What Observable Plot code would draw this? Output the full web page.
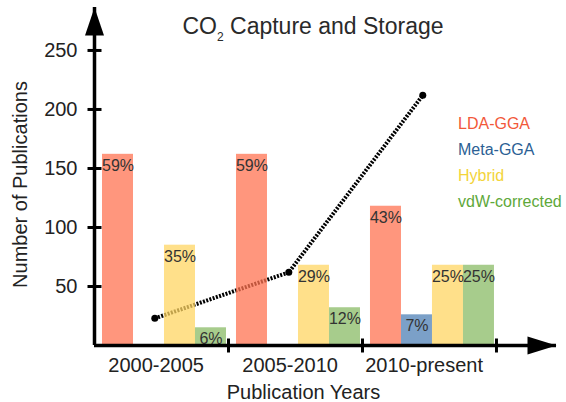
<!DOCTYPE html>
<html><head><meta charset="utf-8">
<script src="https://cdn.jsdelivr.net/npm/d3@7"></script>
<script src="https://cdn.jsdelivr.net/npm/@observablehq/plot@0.6"></script>
<style>
body{margin:0;background:#fff;font-family:"Liberation Sans",Arial,sans-serif;}
#wrap{position:relative;width:566px;height:402px;}
#title{position:absolute;left:313px;top:15px;transform:translateX(-50%);font-size:23px;line-height:22px;color:#2a2a2a;white-space:nowrap;}
#title sub{font-size:12px;vertical-align:-7px;line-height:0;}
#legend{position:absolute;left:458px;top:111px;font-size:16px;line-height:26px;white-space:nowrap;}
</style></head>
<body>
<div id="wrap">
<div id="title">CO<sub>2</sub> Capture and Storage</div>
<div id="legend"></div>
</div>
<script>
const groups = ["2000-2005", "2005-2010", "2010-present"];
const series = ["LDA-GGA", "Meta-GGA", "Hybrid", "vdW-corrected"];
const ldaValues = [162, 162, 118];
const metaValues = [null, null, 26];
const hybridValues = [85, 68, 68];
const vdwValues = [15, 32, 68];
const ldaLabels = ["59%", "59%", "43%"];
const metaLabels = [null, null, "7%"];
const hybridLabels = ["35%", "29%", "25%"];
const vdwLabels = ["6%", "12%", "25%"];
const totalPublications = [23, 62, 212];
const yTicks = [50, 100, 150, 200, 250];

const barColors = ["rgb(255,115,82)", "rgb(79,128,182)", "rgb(255,214,99)", "rgb(138,187,102)"];
const legendColors = ["#f2583a", "#2c5f94", "#f3d43a", "#5ea83a"];

const seriesValues = [ldaValues, metaValues, hybridValues, vdwValues];
const seriesLabels = [ldaLabels, metaLabels, hybridLabels, vdwLabels];

const pad = 8 / 134, bw = 31 / 134;
const bars = [];
groups.forEach((g, gi) => {
  series.forEach((s, si) => {
    const v = seriesValues[si][gi];
    if (v == null) return;
    const x1 = gi + pad + si * bw;
    bars.push({group: g, series: s, si, value: v, label: seriesLabels[si][gi], x1, x2: x1 + bw, xm: x1 + bw / 2});
  });
});
const lineData = groups.map((g, gi) => ({group: g, x: gi + 0.45, v: totalPublications[gi]}));
const boundaries = groups.map((g, gi) => gi + 1);
const labelPos = groups.map((g, gi) => ({group: g, x: gi + 0.46}));

const arrowUp = {draw(ctx) { ctx.moveTo(0, 0); ctx.lineTo(-9.5, 28); ctx.lineTo(9.5, 28); ctx.closePath(); }};
const arrowRight = {draw(ctx) { ctx.moveTo(0, 0); ctx.lineTo(-29, -9); ctx.lineTo(-29, 9); ctx.closePath(); }};
const hTick = {draw(ctx) { ctx.moveTo(-7, 0); ctx.lineTo(7, 0); }};
const vTick = {draw(ctx) { ctx.moveTo(0, -7); ctx.lineTo(0, 7); }};

const chart = Plot.plot({
  width: 566, height: 402,
  marginLeft: 94, marginRight: 10, marginTop: 7, marginBottom: 57,
  x: {domain: [0, 3.448], axis: null},
  y: {domain: [0, 286.4], axis: null},
  style: {fontFamily: "Liberation Sans, Arial, sans-serif", background: "transparent", color: "#222"},
  marks: [
    Plot.line(lineData, {x: "x", y: "v", stroke: "#000", strokeWidth: 4, strokeDasharray: "2,1.4", strokeLinecap: "butt"}),
    Plot.dot(lineData, {x: "x", y: "v", r: 3.5, fill: "#000"}),
    Plot.rect(bars, {x1: "x1", x2: "x2", y1: 0, y2: "value", fill: d => barColors[d.si], fillOpacity: 0.75}),
    Plot.text(bars, {x: "xm", y: "value", text: "label", lineAnchor: "top", dy: 5, fontSize: 16, fill: "#333"}),
    Plot.ruleX([0], {stroke: "#000", strokeWidth: 3.5}),
    Plot.ruleY([0], {stroke: "#000", strokeWidth: 3.5}),
    Plot.dot([0], {x: d => d, frameAnchor: "top", symbol: arrowUp, fill: "#000", stroke: "none"}),
    Plot.dot([0], {y: d => d, frameAnchor: "right", symbol: arrowRight, fill: "#000", stroke: "none"}),
    Plot.dot(yTicks, {x: () => 0, y: d => d, symbol: hTick, fill: "none", stroke: "#000", strokeWidth: 3}),
    Plot.text(yTicks, {y: d => d, frameAnchor: "left", text: d => String(d), textAnchor: "end", dx: -17, fontSize: 20, fill: "#222"}),
    Plot.dot(boundaries, {x: d => d, y: () => 0, symbol: vTick, fill: "none", stroke: "#000", strokeWidth: 3}),
    Plot.text(labelPos, {x: "x", y: () => 0, text: "group", lineAnchor: "top", dy: 12, fontSize: 20, fill: "#222"}),
    Plot.text(["Publication Years"], {frameAnchor: "bottom", text: d => d, lineAnchor: "top", dy: 39, dx: -22, fontSize: 20, fill: "#222"}),
    Plot.text(["Number of Publications"], {frameAnchor: "left", text: d => d, textAnchor: "middle", rotate: -90, dx: -74, dy: 8, fontSize: 20, fill: "#222"})
  ]
});
document.getElementById("wrap").prepend(chart);
const legend = document.getElementById("legend");
series.forEach((s, i) => {
  const div = document.createElement("div");
  div.textContent = s;
  div.style.color = legendColors[i];
  legend.appendChild(div);
});
</script>
</body></html>
